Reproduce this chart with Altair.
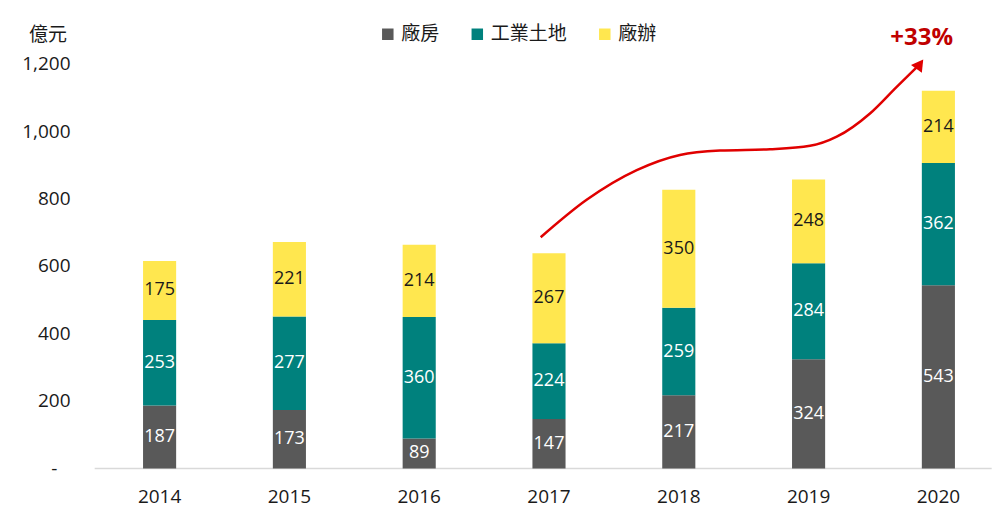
import altair as alt
import pandas as pd

years = ["2014", "2015", "2016", "2017", "2018", "2019", "2020"]
series = ["廠房", "工業土地", "廠辦"]
plant = [187, 173, 89, 147, 217, 324, 543]
land = [253, 277, 360, 224, 259, 284, 362]
office = [175, 221, 214, 267, 350, 248, 214]
colors = ["#595959", "#00817D", "#FFE74F"]

y_ticks = [0, 200, 400, 600, 800, 1000, 1200]

# annotation arrow path (year index, value) and label
arrow_x = [2.936, 3.290, 3.676, 4.009, 4.317, 4.703, 5.011, 5.217, 5.473, 5.679, 5.857]
arrow_y = [685, 796, 884, 929, 942, 946, 956, 983, 1052, 1131, 1198]
note_text = ["+33%"]
note_x = [5.871]
note_y = [1275]

rows = []
for i, y in enumerate(years):
    for k, (s, vals) in enumerate(zip(series, [plant, land, office])):
        rows.append({"year": y, "series": s, "order": k, "value": vals[i]})
df = pd.DataFrame(rows)
arrow_df = pd.DataFrame({"ax": arrow_x, "ay": arrow_y, "i": list(range(len(arrow_x)))})
head_df = arrow_df.tail(1)
note_df = pd.DataFrame({"nx": note_x, "ny": note_y, "t": note_text})
base_df = pd.DataFrame({"v": [0]})

W = 897
RANGE = 908.6
H = 405
NUM_FONT = "Open Sans, Noto Sans CJK TC"
CJK_FONT = "Noto Sans CJK TC"

band_scale = alt.Scale(range=[0, RANGE], paddingInner=0.745, paddingOuter=0.3725)
xband = alt.X("year:O", sort=years, scale=band_scale,
              axis=alt.Axis(title=None, labelAngle=0, ticks=False, tickSize=0, domain=False,
                            labelFont=NUM_FONT, labelFontSize=19, labelColor="#1a1a1a",
                            labelBaseline="middle", labelPadding=28.5))
yscale = alt.Scale(domain=[0, 1200], nice=False)

bars = alt.Chart(df).mark_bar().encode(
    x=xband,
    y=alt.Y("value:Q", stack="zero", scale=yscale,
            axis=alt.Axis(values=y_ticks, grid=False, domain=False, ticks=False, tickSize=0,
                          labelExpr="datum.value == 0 ? '-\u00a0\u00a0\u2009\u200b' : format(datum.value, ',')",
                          labelFont=NUM_FONT, labelFontSize=19, labelColor="#1a1a1a",
                          labelPadding=24.7, labelBaseline="middle",
                          title="億元", titleAngle=0, titleX=-47.2, titleY=-29.5,
                          titleAlign="center", titleBaseline="middle",
                          titleFont=CJK_FONT, titleFontSize=19, titleFontWeight="normal",
                          titleColor="#1a1a1a")),
    color=alt.Color("series:N", sort=series,
                    scale=alt.Scale(domain=series, range=colors),
                    legend=alt.Legend(title=None, orient="none", direction="horizontal",
                                      legendX=283.6, legendY=-39,
                                      symbolType="square", symbolSize=132, symbolStrokeWidth=0,
                                      labelFont=CJK_FONT, labelFontSize=19, labelColor="#1a1a1a",
                                      labelOffset=4, columnPadding=27.5, padding=0)),
    order=alt.Order("order:Q", sort="ascending"),
)

labels = alt.Chart(df).transform_stack(
    stack="value", groupby=["year"], sort=[alt.SortField("order", "ascending")], as_=["v0", "v1"]
).transform_calculate(
    mid="(datum.v0 + datum.v1) / 2",
    tc="datum.series == '廠辦' ? '#1a1a1a' : '#ffffff'",
).mark_text(font=NUM_FONT, fontSize=18, baseline="middle", align="center").encode(
    x=alt.X("year:O", sort=years, scale=band_scale, axis=None),
    y=alt.Y("mid:Q", scale=yscale),
    text=alt.Text("value:Q"),
    color=alt.Color("tc:N", scale=None),
)

baseline = alt.Chart(base_df).mark_rule(color="#D9D9D9", strokeWidth=1.3).encode(
    x=alt.value(0), x2=alt.value(W), y=alt.Y("v:Q", scale=yscale),
)

xq = alt.Scale(domain=[-0.5, 6.5], range=[0, RANGE], nice=False, zero=False)

arrow = alt.Chart(arrow_df).mark_line(color="#E00000", strokeWidth=2.5, interpolate="monotone").encode(
    x=alt.X("ax:Q", scale=xq, axis=None),
    y=alt.Y("ay:Q", scale=yscale),
    order="i:Q",
)
head = alt.Chart(head_df).mark_point(shape="triangle-up", filled=True, size=180, angle=36,
                                     color="#E00000", opacity=1).encode(
    x=alt.X("ax:Q", scale=xq, axis=None),
    y=alt.Y("ay:Q", scale=yscale),
)
note = alt.Chart(note_df).mark_text(font=NUM_FONT, fontSize=24, fontWeight="bold",
                                    color="#C00000", align="center", baseline="middle").encode(
    x=alt.X("nx:Q", scale=xq, axis=None),
    y=alt.Y("ny:Q", scale=yscale),
    text="t:N",
)

chart = alt.layer(baseline, bars, labels, arrow, head, note).resolve_scale(x="independent").properties(
    width=W, height=H,
    autosize=alt.AutoSizeParams(type="none"),
    padding={"left": 86.7, "top": 55.5, "right": 0, "bottom": 40},
    background="white",
).configure_view(stroke=None)

chart.save("out.html", embed_options={"renderer": "svg", "actions": False})
